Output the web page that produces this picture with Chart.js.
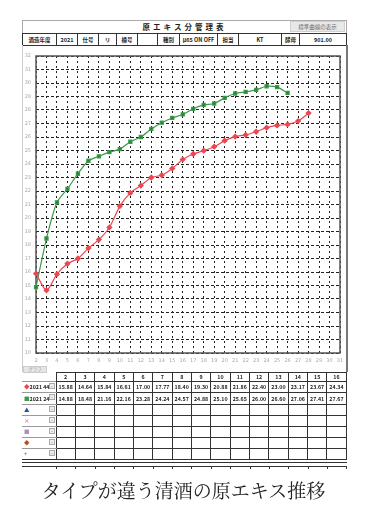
<!DOCTYPE html>
<html>
<head>
<meta charset="utf-8">
<script src="https://cdn.jsdelivr.net/npm/chart.js@4/dist/chart.umd.min.js"></script>
<style>
  body { margin: 0; width: 367px; height: 512px; background: #fff; position: relative; overflow: hidden;
         font-family: "Noto Sans CJK JP", sans-serif; color: #222; }
  .abs { position: absolute; box-sizing: border-box; }
  #info, #vals { border-collapse: collapse; table-layout: fixed; }
  #info td { border: 1px solid #333; font-size: 5.5px; font-weight: bold; text-align: center; padding: 0; height: 11px; white-space: nowrap; overflow: hidden; }
  #vals td { border: 1px solid #333; font-size: 5.3px; font-weight: bold; text-align: center; padding: 0; white-space: nowrap; overflow: hidden; }
  #vals td.lab { text-align: left; padding-left: 2px; border-left: none; border-color: #999 #333 #999 #999; position: relative; overflow: visible; }
  .btn { position: absolute; left: 27px; top: 1px; width: 6px; height: 6px; background: #eee; border: 1px solid #aaa; box-sizing: border-box;
         font-size: 4px; line-height: 4px; text-align: center; color: #777; }
</style>
</head>
<body>
<div class="abs" style="left:22px;top:20px;width:325px;height:13px;border:1px solid #aaa;border-bottom:none;"></div>
<div class="abs" style="left:22px;top:21px;width:325px;text-align:center;font-size:7.5px;font-weight:bold;letter-spacing:3px;">原エキス分管理表</div>
<div class="abs" style="left:290px;top:21px;width:55px;height:11px;background:#e8e8e8;border:1px solid #d0d0d0;font-size:5.5px;color:#666;text-align:center;line-height:10px;">標準曲線の表示</div>

<table id="info" class="abs" style="left:22px;top:33px;width:325px;">
  <tr>
    <td style="width:33px">酒造年度</td><td style="width:20px">2021</td><td style="width:20px">仕号</td><td style="width:17px">リ</td>
    <td style="width:20px">桶号</td><td style="width:19px"></td><td style="width:21px">種別</td><td style="width:37px">μ65 ON OFF</td>
    <td style="width:20px">担当</td><td style="width:42px">KT</td><td style="width:17px">酵母</td><td>901.00</td>
  </tr>
</table>

<div class="abs" style="left:22px;top:45px;width:326px;height:327px;border-left:1px solid #ccc;border-right:2px solid #777;"></div>
<canvas id="chart" class="abs" width="330" height="322" style="left:20px;top:48px;"></canvas>

<div class="abs" style="left:23px;top:366px;width:24px;height:7px;background:#e6e6e6;border:1px solid #ccc;font-size:4.5px;color:#999;text-align:center;line-height:5px;">グラフ</div>
<table id="vals" class="abs" style="left:22px;top:372px;"></table>
<div id="foot" class="abs" style="left:22px;top:459px;width:325px;height:9px;"></div>

<div class="abs" style="left:0;top:476px;width:367px;text-align:center;font-size:19px;font-family:'Noto Serif CJK JP','Noto Sans CJK JP',serif;">タイプが違う清酒の原エキス推移</div>

<script>
// days on the x axis
const dayLabels = ['2', '3', '4', '5', '6', '7', '8', '9', '10', '11', '12', '13', '14', '15', '16',
  '17', '18', '19', '20', '21', '22', '23', '24', '25', '26', '27', '28', '29', '30', '31'];
const seriesNames = ['2021 44', '2021 24'];
// red: days 2..28, green: days 2..26
const redSeries = [15.88, 14.64, 15.84, 16.61, 17.00, 17.77, 18.40, 19.30, 20.88, 21.86, 22.40, 23.00, 23.17, 23.67,
  24.34, 24.74, 24.99, 25.28, 25.73, 26.03, 26.15, 26.39, 26.69, 26.86, 26.93, 27.18, 27.77];
const greenSeries = [14.88, 18.48, 21.16, 22.16, 23.28, 24.24, 24.57, 24.88, 25.10, 25.65, 26.00, 26.60, 27.06, 27.41,
  27.67, 28.09, 28.38, 28.48, 28.90, 29.22, 29.34, 29.49, 29.76, 29.69, 29.27];
const tableDays = 15;

const RED = '#ec4650';
const GREEN = '#3a9a4a';

// frame around the plot area
const frame = {
  id: 'frame',
  beforeDatasetsDraw(chart) {
    const { ctx, chartArea: a } = chart;
    ctx.save();
    ctx.strokeStyle = '#555';
    ctx.lineWidth = 1.5;
    ctx.strokeRect(a.left, a.top, a.right - a.left, a.bottom - a.top);
    ctx.restore();
  },
};

const tickFont = { size: 5, family: 'DejaVu Sans' };

new Chart(document.getElementById('chart').getContext('2d'), {
  type: 'line',
  data: {
    labels: dayLabels,
    datasets: [
      { label: seriesNames[0], data: redSeries, borderColor: RED, backgroundColor: RED, borderWidth: 1.2,
        pointStyle: 'rectRot', pointRadius: 2.3, tension: 0.25 },
      { label: seriesNames[1], data: greenSeries, borderColor: GREEN, backgroundColor: '#2a7f3a', borderWidth: 1.2,
        pointStyle: 'rect', pointRadius: 2.2, tension: 0.25 },
    ],
  },
  options: {
    responsive: false,
    animation: false,
    devicePixelRatio: 1,
    layout: { padding: { top: 7, right: 10, left: 0, bottom: 0 } },
    plugins: { legend: { display: false }, tooltip: { enabled: false } },
    scales: {
      x: {
        grid: { color: '#222', lineWidth: 1, drawTicks: false },
        border: { display: false, dash: [2, 3] },
        ticks: { color: '#aaa', font: tickFont, maxRotation: 0, autoSkip: false, padding: 5 },
        afterFit: s => { s.height = 17; },
      },
      y: {
        min: 10,
        max: 32,
        grid: { color: '#222', lineWidth: 1, drawTicks: false },
        border: { display: false, dash: [3, 2] },
        ticks: { color: '#aaa', font: tickFont, stepSize: 1, padding: 5 },
        afterFit: s => { s.width = 16; },
      },
    },
  },
  plugins: [frame],
});

// value table under the chart
const rows = [
  { mark: '◆', color: RED, name: seriesNames[0], values: redSeries },
  { mark: '■', color: GREEN, name: seriesNames[1], values: greenSeries },
  { mark: '▲', color: '#3050b0' },
  { mark: '×', color: '#e070c0' },
  { mark: '■', color: '#b08cc0' },
  { mark: '◆', color: '#b0502a' },
  { mark: '+', color: '#30a0b0' },
];
const colW = 19.35;
let html = '<colgroup><col style="width:34px">';
for (let i = 0; i < tableDays; i++) html += `<col style="width:${colW}px">`;
html += '</colgroup><tr style="height:8px"><td class="lab" style="border:none;border-right:1px solid #333"></td>';
for (let i = 0; i < tableDays; i++) html += `<td>${dayLabels[i]}</td>`;
html += '</tr>';
rows.forEach((r, k) => {
  html += `<tr style="height:${k === 1 ? 12 : 11}px"><td class="lab"><span style="color:${r.color};font-size:5.5px">${r.mark}</span>${r.name || ''}<div class="btn">-</div></td>`;
  for (let i = 0; i < tableDays; i++) {
    html += `<td>${r.values ? r.values[i].toFixed(2) : ''}</td>`;
  }
  html += '</tr>';
});
document.getElementById('vals').innerHTML = html;

// double rule and tick marks at the foot of the sheet
const foot = document.getElementById('foot');
foot.innerHTML = '<div class="abs" style="left:0;top:0;width:325px;height:4px;border-top:1px solid #333;border-bottom:1px solid #333"></div>'
  + '<div class="abs" style="left:0;top:7px;width:325px;border-top:1px solid #333"></div>';
for (let i = 0; i <= tableDays; i++) {
  const t = document.createElement('div');
  t.className = 'abs';
  t.style.cssText = `left:${34 + i * colW}px;top:7px;width:1px;height:3px;background:#333`;
  foot.appendChild(t);
}
</script>
</body>
</html>
